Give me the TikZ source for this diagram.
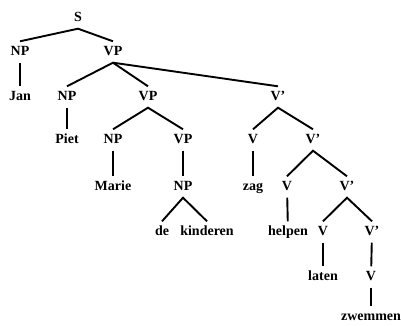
\documentclass[tikz,border=0pt]{standalone}
\usepackage{fontspec}
\setmainfont{Liberation Serif}

\begin{document}
\begin{tikzpicture}[x=1pt, y=-1pt,
    lbl/.style={font=\fontsize{14}{15}\selectfont\bfseries, inner xsep=1pt, inner ysep=5pt, text height=9pt, text depth=2pt},
    branch/.style={line width=1.9pt}]
    \useasboundingbox (0,0) rectangle (401,326);

    % Top of the tree
    \node[lbl] (s) at (78,18) {S};
    \node[lbl] (np1) at (20,52) {NP};
    \node[lbl] (vp1) at (113,52) {VP};
    \node[lbl] (jan) at (20,97) {Jan};

    % Second level
    \node[lbl] (np2) at (67,97) {NP};
    \node[lbl] (vp2) at (148,97) {VP};
    \node[lbl] (vb1) at (278,97) {V'};
    \node[lbl] (piet) at (67,140) {Piet};

    % Marie de kinderen
    \node[lbl] (np3) at (113,140) {NP};
    \node[lbl] (vp3) at (183,140) {VP};
    \node[lbl] (marie) at (113,187) {Marie};
    \node[lbl] (np4) at (183,187) {NP};
    \node[lbl] (de) at (162,232) {de};
    \node[lbl] (kind) at (207,232) {kinderen};

    % Verb cluster
    \node[lbl] (v1) at (253,140) {V};
    \node[lbl] (vb2) at (313,140) {V'};
    \node[lbl] (zag) at (253,187) {zag};
    \node[lbl] (v2) at (287,187) {V};
    \node[lbl] (vb3) at (347,187) {V'};
    \node[lbl] (helpen) at (288,232) {helpen};
    \node[lbl] (v3) at (323,232) {V};
    \node[lbl] (vb4) at (372,232) {V'};
    \node[lbl] (laten) at (323,277) {laten};
    \node[lbl] (v4) at (371,277) {V};
    \node[lbl] (zwem) at (371,317) {zwemmen};

    % Branches
    \draw[branch] (np1.north) -- (s.south) -- (vp1.north);
    \draw[branch] (np1) -- (jan);
    \draw[branch] (np2.north) -- (vp1.south) -- (vp2.north);
    \draw[branch] (vp1.south) -- (vb1.north);
    \draw[branch] (np2) -- (piet);
    \draw[branch] (np3.north) -- (vp2.south) -- (vp3.north);
    \draw[branch] (np3) -- (marie);
    \draw[branch] (vp3) -- (np4);
    \draw[branch] (de.north) -- (np4.south) -- (kind.north);
    \draw[branch] (v1.north) -- (vb1.south) -- (vb2.north);
    \draw[branch] (v1) -- (zag);
    \draw[branch] (v2.north) -- (vb2.south) -- (vb3.north);
    \draw[branch] (v2) -- (helpen);
    \draw[branch] (v3.north) -- (vb3.south) -- (vb4.north);
    \draw[branch] (v3) -- (laten);
    \draw[branch] (vb4) -- (v4);
    \draw[branch] (v4) -- (zwem);
\end{tikzpicture}
\end{document}
